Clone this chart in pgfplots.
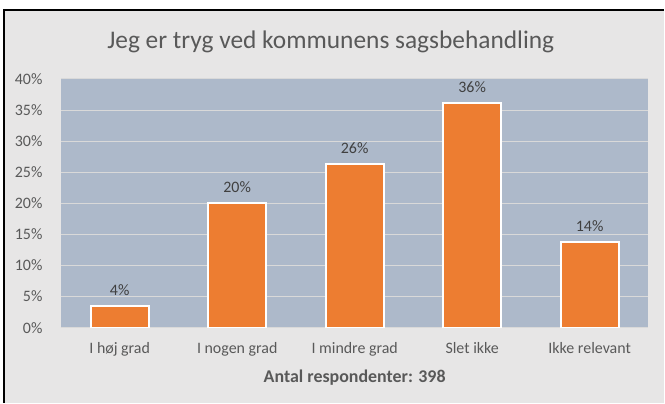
\documentclass[border=0pt]{standalone}
\usepackage{pgfplots}
\pgfplotsset{compat=1.18}
\usepackage{fontspec}
\setmainfont{Carlito}
\definecolor{bgc}{HTML}{E7E6E6}
\definecolor{plotc}{HTML}{ADB9CA}
\definecolor{barc}{HTML}{ED7D31}
\definecolor{gridc}{HTML}{D9D9D9}
\definecolor{txtc}{HTML}{595959}
\definecolor{lblc}{HTML}{404040}
\begin{document}
\begin{tikzpicture}
\fill[white] (0bp,0bp) rectangle (665bp,403bp);
\fill[bgc] (4bp,0bp) rectangle (665bp,393bp);
\draw[black, line width=1.2bp] (4bp,0bp) -- (4bp,393bp) -- (665bp,393bp);
\node[text=txtc, font=\fontsize{25.5}{29}\selectfont] at (331bp,361bp) {Jeg er tryg ved kommunens sagsbehandling};
\begin{axis}[
  at={(61bp,75bp)}, anchor=south west, scale only axis,
  width=588bp, height=249bp,
  xmin=-0.5, xmax=4.5, ymin=0, ymax=40,
  axis background/.style={fill=plotc},
  axis x line*=bottom, axis y line*=left,
  y axis line style={draw=none},
  x axis line style={gridc, line width=0.8bp},
  ymajorgrids, grid style={gridc, line width=1bp},
  ytick={0,5,...,40},
  yticklabel={\pgfmathprintnumber{\tick}\%},
  yticklabel style={font=\fontsize{16}{18}\selectfont, text=txtc, xshift=-15bp},
  y tick style={draw=none},
  xtick={0,1,2,3,4},
  xticklabels={I høj grad, I nogen grad, I mindre grad, Slet ikke, Ikke relevant},
  xticklabel style={font=\fontsize{16}{18}\selectfont, text=txtc, yshift=-11bp},
  x tick style={draw=none},
  extra x ticks={-0.5,0.5,1.5,2.5,3.5,4.5},
  extra x tick labels={},
  extra x tick style={major tick length=4bp, tick align=outside, major tick style={draw=gridc, line width=0.8bp}},
  /pgf/number format/assume math mode=true,
  xlabel={Antal respondenter: 398},
  xlabel style={at={(axis description cs:0.5,0)}, anchor=center, yshift=-50bp, font=\bfseries\fontsize{18}{20}\selectfont, text=txtc},
  nodes near coords,
  point meta=explicit symbolic,
  nodes near coords style={font=\fontsize{16}{18}\selectfont, text=lblc, anchor=south, yshift=6bp},
]
\addplot[ybar, bar width=58bp, fill=barc, draw=white, line width=2bp] coordinates {
  (0,3.5) [4\%]
  (1,20.1) [20\%]
  (2,26.4) [26\%]
  (3,36.2) [36\%]
  (4,13.8) [14\%]
};
\end{axis}
\end{tikzpicture}
\end{document}
